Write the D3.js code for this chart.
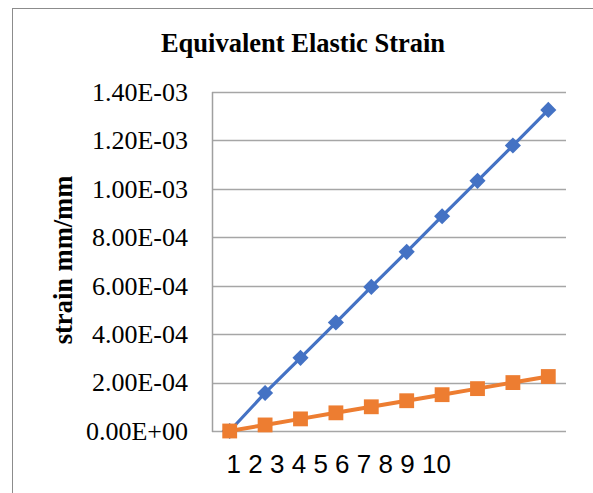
<!DOCTYPE html>
<html>
<head>
<meta charset="utf-8">
<script src="https://cdn.jsdelivr.net/npm/d3@7"></script>
<style>
  body { margin: 0; background: #fff; }
</style>
</head>
<body>
<div class="chart"></div>
<script>
// chart data
const categories = ['1', '2', '3', '4', '5', '6', '7', '8', '9', '10'];
const seriesA = [0, 1.57e-4, 3.02e-4, 4.48e-4, 5.95e-4, 7.40e-4, 8.87e-4, 1.033e-3, 1.179e-3, 1.326e-3];
const seriesB = [0, 2.5e-5, 5.0e-5, 7.5e-5, 1.0e-4, 1.25e-4, 1.5e-4, 1.75e-4, 2.0e-4, 2.25e-4];
const yTicks = [0, 2e-4, 4e-4, 6e-4, 8e-4, 1e-3, 1.2e-3, 1.4e-3];
const yTickLabels = ['0.00E+00', '2.00E-04', '4.00E-04', '6.00E-04', '8.00E-04', '1.00E-03', '1.20E-03', '1.40E-03'];

// graph dimensions
const width = 593;
const height = 493;
const plot = { left: 212, right: 566, top: 92, bottom: 431 };

const svg = d3.select('.chart')
  .append('svg')
  .attr('width', width)
  .attr('height', height);

// outer chart frame
svg.append('rect')
  .attr('x', 12.5)
  .attr('y', 8.5)
  .attr('width', 620)
  .attr('height', 520)
  .attr('fill', 'none')
  .attr('stroke', '#8c8c8c')
  .attr('stroke-width', 1);

// scales
const x = d3.scaleBand().domain(categories).range([plot.left, plot.right]);
const y = d3.scaleLinear().domain([0, 1.4e-3]).range([plot.bottom, plot.top]);
// the category labels sit bunched up at the left, as in the original (left aligned, even steps)
const xLabel = d3.scalePoint().domain(categories).range([226, 421.5]);

// gridlines
svg.append('g')
  .selectAll('line')
  .data(yTicks)
  .enter()
  .append('line')
  .attr('x1', plot.left)
  .attr('x2', plot.right)
  .attr('y1', d => Math.round(y(d)) + 0.5)
  .attr('y2', d => Math.round(y(d)) + 0.5)
  .attr('stroke', '#a6a6a6')
  .attr('stroke-width', 1.5);

// left axis line
svg.append('line')
  .attr('x1', plot.left + 0.5)
  .attr('x2', plot.left + 0.5)
  .attr('y1', plot.top)
  .attr('y2', plot.bottom + 1)
  .attr('stroke', '#a0a0a0')
  .attr('stroke-width', 1.5);

// y axis labels
const yAxis = d3.axisLeft(y)
  .tickValues(yTicks)
  .tickFormat((d, i) => yTickLabels[i])
  .tickSize(0)
  .tickPadding(24);
const yAxisGroup = svg.append('g')
  .attr('transform', `translate(${plot.left}, 0)`)
  .call(yAxis);
yAxisGroup.select('.domain').remove();
yAxisGroup.selectAll('text')
  .attr('font-family', '"Liberation Serif", "Times New Roman", serif')
  .attr('font-size', 26)
  .attr('fill', '#000');

// x axis labels
const xAxis = d3.axisBottom(xLabel).tickSize(0).tickPadding(0);
const xAxisGroup = svg.append('g')
  .attr('transform', `translate(0, 455)`)
  .call(xAxis);
xAxisGroup.select('.domain').remove();
xAxisGroup.selectAll('text')
  .attr('text-anchor', 'start')
  .attr('font-family', '"Liberation Sans", Arial, sans-serif')
  .attr('font-size', 26)
  .attr('fill', '#000');

// line generator
const line = (values) => d3.line()
  .x((d, i) => x(categories[i]) + x.bandwidth() / 2)
  .y(d => y(d))(values);

// blue series
svg.append('path')
  .attr('d', line(seriesA))
  .attr('fill', 'none')
  .attr('stroke', '#4472c4')
  .attr('stroke-width', 3.2);
svg.append('g')
  .selectAll('path')
  .data(seriesA)
  .enter()
  .append('path')
  .attr('d', d3.symbol().type(d3.symbolSquare).size(130))
  .attr('transform', (d, i) => `translate(${x(categories[i]) + x.bandwidth() / 2}, ${y(d)}) rotate(45)`)
  .attr('fill', '#4472c4');

// orange series
svg.append('path')
  .attr('d', line(seriesB))
  .attr('fill', 'none')
  .attr('stroke', '#ed7d31')
  .attr('stroke-width', 4);
svg.append('g')
  .selectAll('path')
  .data(seriesB)
  .enter()
  .append('path')
  .attr('d', d3.symbol().type(d3.symbolSquare).size(220))
  .attr('transform', (d, i) => `translate(${x(categories[i]) + x.bandwidth() / 2}, ${y(d)})`)
  .attr('fill', '#ed7d31');

// title
svg.append('text')
  .attr('x', 303)
  .attr('y', 52)
  .attr('text-anchor', 'middle')
  .attr('font-family', '"Liberation Serif", "Times New Roman", serif')
  .attr('font-weight', 'bold')
  .attr('font-size', 26.5)
  .text('Equivalent Elastic Strain');

// y axis title
svg.append('text')
  .attr('transform', 'translate(72, 260) rotate(-90)')
  .attr('text-anchor', 'middle')
  .attr('font-family', '"Liberation Serif", "Times New Roman", serif')
  .attr('font-weight', 'bold')
  .attr('font-size', 26.5)
  .text('strain mm/mm');
</script>
</body>
</html>
